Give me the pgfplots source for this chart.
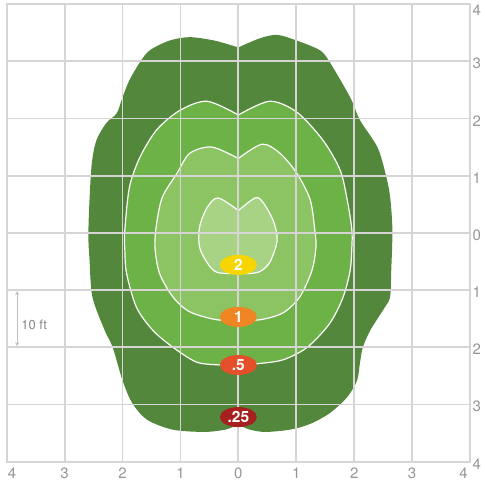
\documentclass[border=0pt]{standalone}
\usepackage{pgfplots}
\pgfplotsset{compat=1.18}
\usepackage{fontspec}
\setmainfont{TeX Gyre Heros}
\usetikzlibrary{shapes.geometric,arrows.meta}
\definecolor{gridc}{RGB}{214,212,212}
\definecolor{labc}{RGB}{150,150,150}
\definecolor{g1}{RGB}{82,135,60}
\definecolor{g2}{RGB}{108,178,70}
\definecolor{g3}{RGB}{140,196,100}
\definecolor{g4}{RGB}{168,211,132}
\definecolor{cy}{RGB}{247,214,0}
\definecolor{co}{RGB}{240,133,35}
\definecolor{cr}{RGB}{228,80,42}
\definecolor{cd}{RGB}{166,32,31}
\begin{document}
\begin{tikzpicture}
\begin{axis}[
  scale only axis, width=463.3pt, height=457.7pt,
  xmin=-4,xmax=4,ymin=-4,ymax=4,
  axis on top,
  xtick={-4,...,4}, ytick={-4,...,4},
  xticklabels={{},3,2,1,0,1,2,3,{}},
  yticklabels={4,3,2,1,0,1,2,3,{}},
  yticklabel pos=right,
  grid=major,
  major grid style={draw=gridc, line width=1.8pt},
  axis line style={draw=gridc, line width=1.8pt},
  major tick length=0pt,
  tick style={draw=none},
  ticklabel style={font=\fontsize{15}{15}\selectfont, text=labc, inner sep=0pt},
  xticklabel style={anchor=north, yshift=-6pt},
  yticklabel style={anchor=west, xshift=2.5pt, yshift=-2.3pt},
  /pgf/number format/assume math mode=true,
  clip=false,
]
% outer (0.25)
\addplot[fill=g1, draw=none, smooth] coordinates {
(0,3.24) (0.37,3.40) (0.67,3.46) (1.01,3.36) (1.41,3.19) (1.58,2.98) (1.93,2.37)
(2.10,1.97) (2.40,1.50) (2.54,1.04) (2.62,0.63) (2.66,0.05) (2.64,-0.66) (2.62,-1.12)
(2.53,-1.30) (2.28,-1.70) (2.15,-2.00) (2.10,-2.27) (2.05,-2.58) (1.88,-2.87) (1.58,-3.15)
(1.24,-3.34) (0.89,-3.44) (0.46,-3.48) (0.2,-3.44) (0,-3.37) (-0.23,-3.44) (-0.58,-3.48)
(-1.13,-3.44) (-1.57,-3.27) (-1.83,-2.98) (-2.0,-2.58) (-2.17,-2.0) (-2.31,-1.70)
(-2.52,-1.12) (-2.57,-0.47) (-2.59,-0.04) (-2.57,0.58) (-2.53,1.22) (-2.45,1.62)
(-2.28,1.92) (-2.10,2.09) (-2.0,2.37) (-1.88,2.67) (-1.70,2.98) (-1.53,3.19) (-1.19,3.36)
(-0.84,3.42) (-0.41,3.36) (0,3.24)};
% 0.5
\addplot[fill=g2, draw=white, line width=1.2pt, smooth] coordinates {
(0,2.06) (-0.54,2.30) (-1.01,2.14) (-1.41,1.80) (-1.70,1.32) (-1.88,0.80) (-1.96,0.05)
(-1.96,-0.30) (-1.93,-0.71) (-1.76,-1.30) (-1.48,-1.70) (-1.13,-2.0) (-0.72,-2.26)
(-0.32,-2.31) (0,-2.33) (0.32,-2.29) (0.77,-2.22) (1.19,-2.0) (1.58,-1.58) (1.81,-1.12)
(1.93,-0.66) (1.96,-0.25) (1.96,0.05) (1.89,0.52) (1.76,1.09) (1.46,1.62) (1.01,2.11)
(0.54,2.30) (0,2.06)};
% 1
\addplot[fill=g3, draw=white, line width=1.2pt, smooth] coordinates {
(0,1.30) (-0.46,1.50) (-0.84,1.39) (-1.06,1.04) (-1.31,0.63) (-1.41,0.17) (-1.44,-0.25)
(-1.36,-0.71) (-1.13,-1.12) (-0.84,-1.38) (-0.37,-1.52) (0,-1.52) (0.37,-1.52)
(0.77,-1.40) (1.06,-1.12) (1.27,-0.66) (1.34,-0.25) (1.32,0.05) (1.24,0.58) (1.01,1.04)
(0.72,1.39) (0.41,1.55) (0,1.30)};
% 2
\addplot[fill=g4, draw=white, line width=1.2pt, smooth] coordinates {
(0,0.39) (-0.35,0.61) (-0.54,0.44) (-0.67,0.10) (-0.67,-0.25) (-0.54,-0.52)
(-0.37,-0.69) (0,-0.71) (0.34,-0.69) (0.54,-0.52) (0.67,-0.13) (0.60,0.22)
(0.42,0.54) (0.29,0.61) (0,0.39)};
\coordinate (L2) at (axis cs:0,-0.56);
\coordinate (L1) at (axis cs:0,-1.47);
\coordinate (L05) at (axis cs:0,-2.31);
\coordinate (L025) at (axis cs:0,-3.22);
\coordinate (SW) at (rel axis cs:0,0);
\coordinate (SE) at (rel axis cs:1,0);
\coordinate (NE) at (rel axis cs:1,1);
\draw[draw=gridc!75!gray, line width=0.8pt, {Stealth[length=4pt,width=4pt]}-{Stealth[length=4pt,width=4pt]}]
  (axis cs:-3.82,-1.02) -- (axis cs:-3.82,-1.98);
\node[anchor=west, inner sep=0pt, text=labc!90!black, font=\fontsize{13}{13}\selectfont]
  at (axis cs:-3.75,-1.61) {10 ft};
\end{axis}
\tikzset{lbl/.style={ellipse, minimum width=37pt, minimum height=20pt, inner sep=0pt,
  text=white, font=\fontsize{15.5}{15.5}\selectfont\bfseries}}
\node[lbl, fill=cy] at (L2) {2};
\node[lbl, fill=co] at (L1) {1};
\node[lbl, fill=cr] at (L05) {.5};
\node[lbl, fill=cd] at (L025) {.25};
\tikzset{tl/.style={inner sep=0pt, text=labc, font=\fontsize{15}{15}\selectfont}}
\node[tl, anchor=north] at ([xshift=5.3pt,yshift=-6pt]SW) {4};
\node[tl, anchor=north] at ([xshift=-6.5pt,yshift=-6pt]SE) {4};
\node[tl, anchor=north west] at ([xshift=2.5pt,yshift=-1pt]NE) {4};
\pgfresetboundingbox
\path[use as bounding box] ([xshift=-6.7pt,yshift=-20.3pt]SW) rectangle ([xshift=15pt,yshift=4pt]NE);
\end{tikzpicture}
\end{document}
